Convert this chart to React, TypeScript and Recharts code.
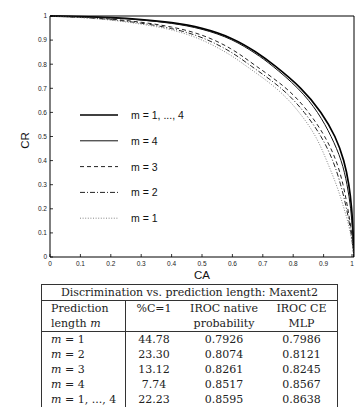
import { LineChart, Line, XAxis, YAxis, Legend } from "recharts"

// CA / CR points
const rocAll = [
  { ca: 0, cr: 1 }, { ca: 0.1, cr: 0.998 }, { ca: 0.2, cr: 0.994 }, { ca: 0.3, cr: 0.986 },
  { ca: 0.4, cr: 0.974 }, { ca: 0.5, cr: 0.952 }, { ca: 0.6, cr: 0.91 }, { ca: 0.68, cr: 0.85 },
  { ca: 0.734, cr: 0.8 }, { ca: 0.83, cr: 0.7 }, { ca: 0.894, cr: 0.6 }, { ca: 0.94, cr: 0.5 },
  { ca: 0.968, cr: 0.4 }, { ca: 0.984, cr: 0.3 }, { ca: 0.993, cr: 0.2 }, { ca: 0.997, cr: 0.1 },
  { ca: 1, cr: 0 },
]
const rocM4 = [
  { ca: 0, cr: 1 }, { ca: 0.1, cr: 0.998 }, { ca: 0.2, cr: 0.993 }, { ca: 0.3, cr: 0.984 },
  { ca: 0.4, cr: 0.971 }, { ca: 0.5, cr: 0.948 }, { ca: 0.6, cr: 0.905 }, { ca: 0.68, cr: 0.842 },
  { ca: 0.726, cr: 0.8 }, { ca: 0.82, cr: 0.7 }, { ca: 0.883, cr: 0.6 }, { ca: 0.926, cr: 0.5 },
  { ca: 0.96, cr: 0.4 }, { ca: 0.978, cr: 0.3 }, { ca: 0.99, cr: 0.2 }, { ca: 0.996, cr: 0.1 },
  { ca: 1, cr: 0 },
]
const rocM3 = [
  { ca: 0, cr: 1 }, { ca: 0.1, cr: 0.996 }, { ca: 0.2, cr: 0.988 }, { ca: 0.3, cr: 0.975 },
  { ca: 0.4, cr: 0.956 }, { ca: 0.5, cr: 0.925 }, { ca: 0.6, cr: 0.865 }, { ca: 0.668, cr: 0.8 },
  { ca: 0.784, cr: 0.7 }, { ca: 0.853, cr: 0.6 }, { ca: 0.906, cr: 0.5 }, { ca: 0.943, cr: 0.4 },
  { ca: 0.965, cr: 0.3 }, { ca: 0.98, cr: 0.2 }, { ca: 0.993, cr: 0.1 }, { ca: 1, cr: 0 },
]
const rocM2 = [
  { ca: 0, cr: 1 }, { ca: 0.1, cr: 0.995 }, { ca: 0.2, cr: 0.986 }, { ca: 0.3, cr: 0.971 },
  { ca: 0.4, cr: 0.95 }, { ca: 0.5, cr: 0.915 }, { ca: 0.6, cr: 0.85 }, { ca: 0.652, cr: 0.8 },
  { ca: 0.767, cr: 0.7 }, { ca: 0.839, cr: 0.6 }, { ca: 0.894, cr: 0.5 }, { ca: 0.932, cr: 0.4 },
  { ca: 0.957, cr: 0.3 }, { ca: 0.976, cr: 0.2 }, { ca: 0.991, cr: 0.1 }, { ca: 1, cr: 0 },
]
const rocM1 = [
  { ca: 0, cr: 1 }, { ca: 0.1, cr: 0.994 }, { ca: 0.2, cr: 0.984 }, { ca: 0.3, cr: 0.967 },
  { ca: 0.4, cr: 0.945 }, { ca: 0.5, cr: 0.905 }, { ca: 0.6, cr: 0.835 }, { ca: 0.636, cr: 0.8 },
  { ca: 0.751, cr: 0.7 }, { ca: 0.822, cr: 0.6 }, { ca: 0.877, cr: 0.5 }, { ca: 0.91, cr: 0.4 },
  { ca: 0.943, cr: 0.3 }, { ca: 0.968, cr: 0.2 }, { ca: 0.99, cr: 0.1 }, { ca: 1, cr: 0 },
]

const caTicks = [0, 0.1, 0.2, 0.3, 0.4, 0.5, 0.6, 0.7, 0.8, 0.9, 1]
const crTicks = [0, 0.1, 0.2, 0.3, 0.4, 0.5, 0.6, 0.7, 0.8, 0.9, 1]

const series = [
  { key: "all", name: "m = 1, ..., 4", data: rocAll, width: 1.7, dash: undefined, color: "#000" },
  { key: "m4", name: "m = 4", data: rocM4, width: 1, dash: undefined, color: "#111" },
  { key: "m3", name: "m = 3", data: rocM3, width: 1, dash: "4 3", color: "#222" },
  { key: "m2", name: "m = 2", data: rocM2, width: 1, dash: "5 2 1 2", color: "#222" },
  { key: "m1", name: "m = 1", data: rocM1, width: 0.9, dash: "1 1.6", color: "#777" },
]

// table rows
const rowLabels = ["1", "2", "3", "4", "1, ..., 4"]
const pctC1 = ["44.78", "23.30", "13.12", "7.74", "22.23"]
const irocNative = ["0.7926", "0.8074", "0.8261", "0.8517", "0.8595"]
const irocMlp = ["0.7986", "0.8121", "0.8245", "0.8567", "0.8638"]

const sans = "Liberation Sans, Arial, sans-serif"
const tickFont = { fontSize: 6.5, fill: "#222", fontFamily: sans }

function BottomTick({ x, y, payload }: any) {
  return (
    <g>
      <line x1={x} x2={x} y1={y} y2={y - 3} stroke="#000" strokeWidth={0.8} />
      <text x={x} y={y + 9} textAnchor="middle" {...tickFont}>{String(payload.value)}</text>
    </g>
  )
}

function LeftTick({ x, y, payload }: any) {
  return (
    <g>
      <line x1={x} x2={x + 3} y1={y} y2={y} stroke="#000" strokeWidth={0.8} />
      <text x={x - 3} y={y + 2.3} textAnchor="end" {...tickFont}>{String(payload.value)}</text>
    </g>
  )
}

function TopTick({ x, y }: any) {
  return <line x1={x} x2={x} y1={y} y2={y + 3} stroke="#000" strokeWidth={0.8} />
}

function RightTick({ x, y }: any) {
  return <line x1={x} x2={x - 3} y1={y} y2={y} stroke="#000" strokeWidth={0.8} />
}

function LegendBox() {
  return (
    <svg width={130} height={135}>
      {series.map((s, i) => (
        <g key={s.key}>
          <line x1={2} x2={40} y1={12 + i * 25.8} y2={12 + i * 25.8} stroke={s.color} strokeWidth={s.width} strokeDasharray={s.dash} />
          <text x={53} y={16 + i * 25.8} fontSize={10.5} fill="#111" fontFamily={sans}>{s.name}</text>
        </g>
      ))}
    </svg>
  )
}

const cell = { padding: "0 6px", height: 15, lineHeight: "15px", whiteSpace: "nowrap" as const }
const first = { ...cell, paddingLeft: 9 }
const sep = "1px solid #333"

export default function App() {
  return (
    <div style={{ position: "absolute", left: 0, top: 0, width: 356, height: 407, background: "#fff" }}>
      <LineChart width={356} height={285} margin={{ top: 15, right: 1, left: 0, bottom: 0 }}>
        <XAxis
          xAxisId="bottom"
          dataKey="ca"
          type="number"
          domain={[0, 1]}
          ticks={caTicks}
          height={28}
          tickSize={0}
          tickMargin={0}
          tick={<BottomTick />}
          axisLine={{ stroke: "#000", strokeWidth: 1 }}
          allowDataOverflow
          label={({ viewBox }: any) => (
            <text x={viewBox.x + viewBox.width / 2} y={viewBox.y + 22} textAnchor="middle" fontSize={11.5} fill="#111" fontFamily={sans}>CA</text>
          )}
        />
        <XAxis xAxisId="top" orientation="top" dataKey="ca" type="number" domain={[0, 1]} ticks={caTicks} height={1} tickSize={0} tickMargin={0} tick={<TopTick />} axisLine={{ stroke: "#000" }} />
        <YAxis
          yAxisId="left"
          type="number"
          domain={[0, 1]}
          ticks={crTicks}
          width={50}
          tickSize={0}
          tickMargin={0}
          tick={<LeftTick />}
          axisLine={{ stroke: "#000", strokeWidth: 1 }}
          label={({ viewBox }: any) => (
            <text
              x={29}
              y={viewBox.y + viewBox.height / 2 + 4}
              transform={`rotate(-90 29 ${viewBox.y + viewBox.height / 2 + 4})`}
              textAnchor="middle"
              fontSize={11.5}
              fill="#111"
              fontFamily={sans}
            >
              CR
            </text>
          )}
        />
        <YAxis yAxisId="right" orientation="right" type="number" domain={[0, 1]} ticks={crTicks} width={1} tickSize={0} tickMargin={0} tick={<RightTick />} axisLine={{ stroke: "#000" }} />
        <Legend layout="vertical" align="center" verticalAlign="middle" content={<LegendBox />} wrapperStyle={{ left: 78, top: 103, width: 130 }} />
        {series.map((s) => (
          <Line
            key={s.key}
            xAxisId="bottom"
            yAxisId="left"
            data={s.data}
            dataKey="cr"
            name={s.name}
            type="basis"
            stroke={s.color}
            strokeWidth={s.width}
            strokeDasharray={s.dash}
            dot={false}
            activeDot={false}
            isAnimationActive={false}
          />
        ))}
      </LineChart>
      <table
        style={{
          position: "absolute",
          left: 41,
          top: 284,
          width: 297,
          borderCollapse: "collapse",
          border: sep,
          fontFamily: "DejaVu Serif, serif",
          fontSize: 11,
          color: "#222",
        }}
      >
        <tbody>
          <tr>
            <td colSpan={4} style={{ ...cell, textAlign: "center", borderBottom: sep }}>
              Discrimination vs. prediction length: Maxent2
            </td>
          </tr>
          <tr>
            <td style={{ ...first, width: 68, borderRight: sep }}>Prediction</td>
            <td style={{ ...cell, width: 44, textAlign: "center" }}>%C=1</td>
            <td style={{ ...cell, width: 72, textAlign: "center" }}>IROC native</td>
            <td style={{ ...cell, textAlign: "center" }}>IROC CE</td>
          </tr>
          <tr style={{ borderBottom: sep }}>
            <td style={{ ...first, borderRight: sep }}>
              length <i>m</i>
            </td>
            <td style={cell}></td>
            <td style={{ ...cell, textAlign: "center" }}>probability</td>
            <td style={{ ...cell, textAlign: "center" }}>MLP</td>
          </tr>
          {rowLabels.map((r, i) => (
            <tr key={r}>
              <td style={{ ...first, borderRight: sep }}>
                <i>m</i> = {r}
              </td>
              <td style={{ ...cell, textAlign: "center" }}>{pctC1[i]}</td>
              <td style={{ ...cell, textAlign: "center" }}>{irocNative[i]}</td>
              <td style={{ ...cell, textAlign: "center" }}>{irocMlp[i]}</td>
            </tr>
          ))}
        </tbody>
      </table>
    </div>
  )
}
